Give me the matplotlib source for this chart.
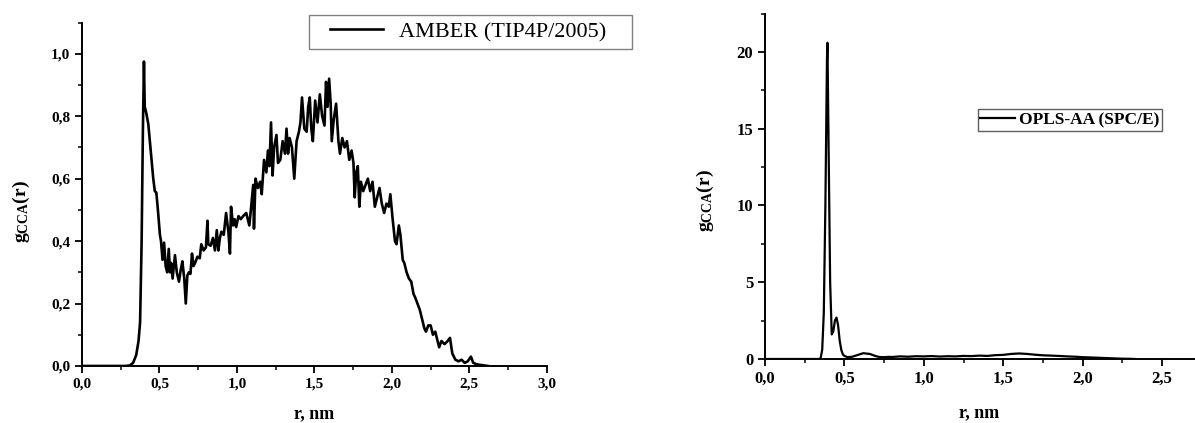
import matplotlib
matplotlib.use("Agg")
import matplotlib.pyplot as plt
from matplotlib.patches import Rectangle
from matplotlib.ticker import MultipleLocator, FuncFormatter

plt.rcParams['font.family'] = ['Liberation Serif', 'DejaVu Serif']
plt.rcParams['mathtext.fontset'] = 'custom'
plt.rcParams['mathtext.rm'] = 'Liberation Serif'
plt.rcParams['mathtext.bf'] = 'Liberation Serif:bold'
plt.rcParams['mathtext.it'] = 'Liberation Serif:italic'

# AMBER (TIP4P/2005) radial distribution
amber_r = [0.00, 0.28, 0.31, 0.33, 0.35, 0.365, 0.375, 0.385, 0.393, 0.400,
           0.405, 0.415, 0.428, 0.445, 0.460, 0.470, 0.480, 0.490, 0.503, 0.510,
           0.520, 0.530, 0.540, 0.550, 0.560, 0.568, 0.575, 0.585, 0.600, 0.612,
           0.626, 0.638, 0.648, 0.660, 0.670, 0.680, 0.690, 0.700, 0.710, 0.720,
           0.730, 0.745, 0.760, 0.770, 0.785, 0.800, 0.810, 0.815, 0.830, 0.845,
           0.858, 0.870, 0.880, 0.890, 0.900, 0.915, 0.930, 0.945, 0.955, 0.962,
           0.975, 0.985, 0.995, 1.010, 1.025, 1.040, 1.060, 1.070, 1.080, 1.090,
           1.105, 1.110, 1.120, 1.135, 1.150, 1.160, 1.175, 1.190, 1.200, 1.210,
           1.220, 1.230, 1.240, 1.255, 1.265, 1.280, 1.295, 1.310, 1.320, 1.330,
           1.340, 1.355, 1.370, 1.385, 1.400, 1.410, 1.420, 1.435, 1.450, 1.460,
           1.470, 1.480, 1.490, 1.505, 1.520, 1.535, 1.550, 1.565, 1.575, 1.585,
           1.595, 1.605, 1.612, 1.625, 1.640, 1.655, 1.665, 1.680, 1.695, 1.710,
           1.725, 1.740, 1.752, 1.760, 1.770, 1.780, 1.790, 1.800, 1.815, 1.830,
           1.845, 1.860, 1.875, 1.890, 1.905, 1.920, 1.935, 1.950, 1.965, 1.980,
           1.990, 2.005, 2.020, 2.030, 2.045, 2.055, 2.070, 2.080, 2.095, 2.110,
           2.125, 2.140, 2.150, 2.165, 2.180, 2.195, 2.210, 2.220, 2.235, 2.250,
           2.265, 2.280, 2.295, 2.305, 2.320, 2.340, 2.360, 2.375, 2.390, 2.410,
           2.430, 2.450, 2.470, 2.490, 2.510, 2.525, 2.550, 2.580, 2.620]
amber_g = [0.000, 0.000, 0.002, 0.010, 0.035, 0.080, 0.140, 0.400, 0.750, 0.975,
           0.830, 0.810, 0.775, 0.680, 0.600, 0.560, 0.555, 0.500, 0.420, 0.400,
           0.340, 0.395, 0.320, 0.300, 0.375, 0.300, 0.330, 0.280, 0.355, 0.300,
           0.270, 0.310, 0.335, 0.280, 0.200, 0.290, 0.300, 0.295, 0.360, 0.320,
           0.330, 0.350, 0.345, 0.390, 0.370, 0.380, 0.465, 0.390, 0.385, 0.410,
           0.370, 0.435, 0.370, 0.410, 0.430, 0.420, 0.490, 0.430, 0.360, 0.510,
           0.450, 0.470, 0.445, 0.480, 0.470, 0.480, 0.490, 0.470, 0.450, 0.500,
           0.580, 0.440, 0.600, 0.570, 0.590, 0.550, 0.660, 0.620, 0.690, 0.640,
           0.780, 0.610, 0.700, 0.740, 0.650, 0.660, 0.720, 0.680, 0.760, 0.680,
           0.730, 0.700, 0.600, 0.720, 0.750, 0.780, 0.860, 0.760, 0.750, 0.830,
           0.860, 0.760, 0.720, 0.850, 0.780, 0.870, 0.800, 0.770, 0.910, 0.830,
           0.920, 0.840, 0.720, 0.790, 0.840, 0.720, 0.680, 0.730, 0.700, 0.720,
           0.660, 0.690, 0.650, 0.540, 0.620, 0.640, 0.510, 0.590, 0.560, 0.580,
           0.600, 0.560, 0.590, 0.510, 0.540, 0.570, 0.520, 0.490, 0.520, 0.510,
           0.550, 0.470, 0.400, 0.390, 0.450, 0.420, 0.340, 0.330, 0.300, 0.280,
           0.270, 0.230, 0.220, 0.200, 0.180, 0.150, 0.120, 0.110, 0.130, 0.130,
           0.100, 0.110, 0.080, 0.060, 0.080, 0.070, 0.080, 0.090, 0.040, 0.020,
           0.015, 0.020, 0.010, 0.015, 0.030, 0.010, 0.005, 0.003, 0.000]

# OPLS-AA (SPC/E) radial distribution
opls_r = [0.00, 0.34, 0.35, 0.36, 0.37, 0.38, 0.39, 0.393, 0.40, 0.41,
          0.42, 0.43, 0.44, 0.45, 0.46, 0.47, 0.48, 0.49, 0.50, 0.52,
          0.55, 0.58, 0.60, 0.62, 0.64, 0.66, 0.68, 0.70, 0.72, 0.75,
          0.78, 0.80, 0.85, 0.90, 0.95, 1.00, 1.05, 1.10, 1.15, 1.20,
          1.25, 1.30, 1.35, 1.40, 1.45, 1.50, 1.55, 1.60, 1.65, 1.70,
          1.75, 1.80, 1.85, 1.90, 1.95, 2.00, 2.05, 2.10, 2.15, 2.20,
          2.25, 2.30, 2.33]
opls_g = [0.0, 0.0, 0.05, 0.6, 3.0, 10.0, 19.5, 20.6, 14.0, 5.0,
          1.6, 1.8, 2.5, 2.7, 2.2, 1.2, 0.6, 0.3, 0.2, 0.12,
          0.15, 0.25, 0.32, 0.38, 0.35, 0.33, 0.25, 0.18, 0.13, 0.12,
          0.14, 0.13, 0.17, 0.15, 0.18, 0.17, 0.19, 0.16, 0.18, 0.17,
          0.20, 0.19, 0.22, 0.20, 0.25, 0.27, 0.33, 0.36, 0.33, 0.28,
          0.24, 0.22, 0.20, 0.17, 0.15, 0.12, 0.10, 0.08, 0.06, 0.04,
          0.02, 0.01, 0.0]

comma = FuncFormatter(lambda v, _: f'{v:.1f}'.replace('.', ','))
ylabel = r'$\mathbf{g_{CCA}(r)}$'

W, H = 1195, 423
fig = plt.figure(figsize=(W / 100, H / 100), dpi=100)

ax1 = fig.add_axes([0.0686, 0.1348, 0.389, 0.812])
ax2 = fig.add_axes([0.6402, 0.1513, 0.3588, 0.8165])


def style_axes(ax, size):
    for side in ('top', 'right'):
        ax.spines[side].set_visible(False)
    for side in ('left', 'bottom'):
        ax.spines[side].set_linewidth(1.4)
    ax.tick_params(which='major', direction='out', length=5, width=1.3,
                   labelsize=size, pad=3.5)
    ax.tick_params(which='minor', direction='out', length=3, width=1.1)
    for lab in ax.get_xticklabels() + ax.get_yticklabels():
        lab.set_fontweight('bold')


# left panel: AMBER
ax1.plot(amber_r, amber_g, color='black', lw=1.9, label='AMBER (TIP4P/2005)')
ax1.set_xlim(0, 3.0)
ax1.set_ylim(0, 1.1)
ax1.xaxis.set_major_locator(MultipleLocator(0.5))
ax1.xaxis.set_minor_locator(MultipleLocator(0.25))
ax1.yaxis.set_major_locator(MultipleLocator(0.2))
ax1.yaxis.set_minor_locator(MultipleLocator(0.1))
ax1.xaxis.set_major_formatter(comma)
ax1.yaxis.set_major_formatter(comma)
style_axes(ax1, 11)
ax1.set_xlabel('r, nm', fontsize=13, fontweight='bold')
ax1.set_ylabel(ylabel, fontsize=14)
ax1.xaxis.set_label_coords(0.5, -0.113)
ax1.yaxis.set_label_coords(-0.108, 0.45)

# legend text and sample line, with a plain grey box around them
ax1.legend(loc='center left', bbox_to_anchor=(330 / W, 1 - 32 / H),
           bbox_transform=fig.transFigure, fontsize=16, frameon=False,
           borderpad=0, borderaxespad=0, handlelength=2.4, handletextpad=0.7)
fig.patches.append(Rectangle((309 / W, 1 - 49 / H), 323 / W, 34 / H,
                             transform=fig.transFigure, fill=False,
                             edgecolor='#808080', linewidth=1.0))

# right panel: OPLS-AA
ax2.plot(opls_r, opls_g, color='black', lw=1.6, label='OPLS-AA (SPC/E)')
ax2.set_xlim(0, 2.7)
ax2.set_ylim(0, 22.5)
ax2.xaxis.set_major_locator(MultipleLocator(0.5))
ax2.xaxis.set_minor_locator(MultipleLocator(0.25))
ax2.yaxis.set_major_locator(MultipleLocator(5))
ax2.yaxis.set_minor_locator(MultipleLocator(2.5))
ax2.xaxis.set_major_formatter(comma)
style_axes(ax2, 12)
ax2.set_xlabel('r, nm', fontsize=13, fontweight='bold')
ax2.set_ylabel(ylabel, fontsize=14)
ax2.xaxis.set_label_coords(0.5, -0.130)
ax2.yaxis.set_label_coords(-0.114, 0.46)
leg2 = ax2.legend(loc='center', bbox_to_anchor=(1070 / W, 1 - 120 / H),
                  bbox_transform=fig.transFigure, fancybox=False, framealpha=1,
                  edgecolor='#606060', borderpad=0.15, handlelength=2.0,
                  handletextpad=0.25, prop={'size': 12.5, 'weight': 'bold'})
leg2.get_frame().set_linewidth(1.0)

fig.savefig('out.png', dpi=100)
